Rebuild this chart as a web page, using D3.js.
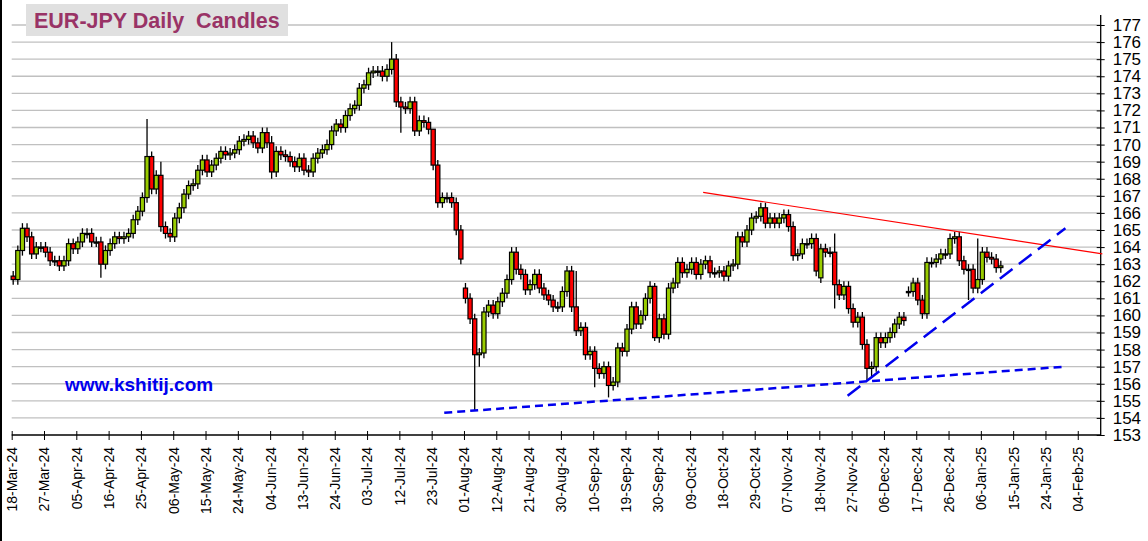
<!DOCTYPE html>
<html>
<head>
<meta charset="utf-8">
<script src="https://cdn.jsdelivr.net/npm/d3@7"></script>
<style>
  body { margin:0; background:#fff; }
  svg text { font-family: "Liberation Sans", Arial, sans-serif; }
</style>
</head>
<body>
<svg id="chart" width="1148" height="541"></svg>
<script>
// x-axis labels, one every 7 trading days
let tickLabels = ['18-Mar-24','27-Mar-24','05-Apr-24','16-Apr-24','25-Apr-24','06-May-24','15-May-24','24-May-24',
  '04-Jun-24','13-Jun-24','24-Jun-24','03-Jul-24','12-Jul-24','23-Jul-24','01-Aug-24','12-Aug-24','21-Aug-24',
  '30-Aug-24','10-Sep-24','19-Sep-24','30-Sep-24','09-Oct-24','18-Oct-24','29-Oct-24','07-Nov-24','18-Nov-24',
  '27-Nov-24','06-Dec-24','17-Dec-24','26-Dec-24','06-Jan-25','15-Jan-25','24-Jan-25','04-Feb-25']

// daily closes
let closes = [
  162.1,163.8,165.1,164.6,163.6,164.0,164.0,163.7,163.2,163.2,
  162.9,163.2,164.2,163.9,164.3,164.8,164.8,164.3,164.3,163.0,
  163.8,164.2,164.6,164.5,164.6,164.8,165.6,166.1,166.9,169.3,
  167.4,168.2,165.2,164.8,164.6,165.7,166.3,167.1,167.6,167.7,
  168.5,169.1,168.4,168.8,169.2,169.6,169.4,169.5,169.7,170.2,
  170.3,170.5,170.1,169.8,170.7,170.1,168.4,169.6,169.4,169.3,
  169.0,168.7,169.2,168.5,168.4,169.2,169.5,169.7,170.0,170.8,
  171.2,171.0,171.7,172.1,172.3,173.3,173.5,174.2,174.3,174.3,
  174.0,174.4,175.0,172.5,172.2,172.1,172.5,170.8,171.4,171.3,
  170.9,168.8,166.6,166.9,166.9,166.6,165.0,163.3,161.0,159.8,
  157.7,157.8,160.2,160.6,160.1,160.8,161.3,162.1,163.7,162.7,
  162.4,161.5,161.8,162.4,161.6,161.2,160.9,160.5,160.5,161.4,
  162.6,160.5,159.1,159.3,157.7,157.9,156.9,156.6,157.0,155.9,
  156.1,158.1,157.9,159.2,160.5,159.5,160.0,161.0,161.7,158.7,
  159.8,158.9,161.6,161.9,163.1,162.5,162.7,163.1,162.4,163.0,
  163.2,162.5,162.5,162.6,162.3,162.9,163.0,164.6,164.3,165.0,
  165.7,165.8,166.3,165.4,165.7,165.4,165.7,165.9,165.2,163.5,
  163.6,164.2,164.2,164.5,162.6,163.9,163.7,163.7,161.8,161.2,
  161.7,160.4,159.6,159.9,158.3,156.9,157.0,158.7,158.4,158.7,
  159.0,159.5,159.9,159.7,161.4,161.9,160.9,160.1,163.1,163.1,
  163.3,163.6,163.6,164.5,164.6,163.2,162.7,162.7,161.6,162.1,
  163.7,163.4,163.3,162.8,162.9
]
// opens that gapped away from the previous close
let gapOpens = { 0:162.3, 29:166.9, 98:161.6, 175:162.2, 194:161.4 }
// highs / lows where the wick stands out
let bigHighs = { 29:171.5, 32:169.0, 56:170.5, 82:176.0, 91:170.9, 122:162.6, 139:161.9, 162:166.6, 174:164.8, 178:164.8, 209:164.5 }
let bigLows  = { 19:162.2, 56:168.0, 84:170.7, 100:154.4, 101:157.0, 126:155.8, 129:155.2, 139:158.5, 178:160.4, 185:156.2, 186:156.4, 207:160.9 }

// trend lines [index, price]
let resistance = [[149.5,167.2],[236,163.6]]
let supportLow = [[93.4,154.3],[227.8,157.0]]
let supportHigh = [[180.8,155.3],[228,165.1]]

let yTicks = d3.range(153,178)

const svg = d3.select('#chart')
const mLeft = 11.7, mRight = 1100.7, mTop = 25, mBottom = 435
const step = 4.615

let x = d3.scaleLinear().domain([0,1]).range([mLeft+1.5, mLeft+1.5+step])
let xt = d3.scaleLinear().domain([0,1]).range([mLeft, mLeft+step*7])
let y = d3.scaleLinear().domain([153,177]).range([mBottom, mTop])

// frame
svg.append('line').attr('x1',1).attr('x2',1).attr('y1',0).attr('y2',541).attr('stroke','#000').attr('stroke-width',2)

// grid
svg.append('g').selectAll('line').data(yTicks.slice(1)).join('line')
  .attr('x1',mLeft).attr('x2',mRight)
  .attr('y1',d=>y(d)).attr('y2',d=>y(d))
  .attr('stroke','#c0c0c0').attr('stroke-width',1.3)

// title box
svg.append('rect').attr('x',26).attr('y',4).attr('width',262).attr('height',32).attr('fill','#e0e0e0')
svg.append('text').attr('x',34).attr('y',28).text('EUR-JPY Daily  Candles')
  .style('white-space','pre')
  .attr('fill','#993366').attr('font-size',21.5).attr('font-weight','bold')

// right axis
let yAxis = d3.axisRight(y).tickValues(yTicks).tickSize(4).tickPadding(8).tickFormat(d3.format('d'))
let ga = svg.append('g').attr('transform',`translate(${mRight},0)`).call(yAxis)
ga.select('.domain').attr('d',`M0,${mTop-10}V${mBottom}`).attr('stroke','#000').attr('stroke-width',1.3)
ga.selectAll('.tick line').attr('x1',-4).attr('stroke','#000')
ga.selectAll('text').attr('font-size',17).attr('fill','#000')

// bottom axis
let xAxis = d3.axisBottom(xt).tickValues(d3.range(tickLabels.length)).tickFormat(i=>tickLabels[i]).tickSize(5)
let gx = svg.append('g').attr('transform',`translate(0,${mBottom})`).call(xAxis)
gx.select('.domain').attr('d',`M${mLeft},0H${mRight}`).attr('stroke','#000').attr('stroke-width',1.3)
gx.selectAll('.tick line').attr('y1',-4).attr('stroke','#000')
gx.selectAll('text').attr('font-size',14).attr('fill','#000')
  .attr('transform','rotate(-90)').attr('text-anchor','end')
  .attr('x',-12).attr('y',0).attr('dy','0.35em')

// watermark site
svg.append('text').attr('x',65).attr('y',391).text('www.kshitij.com')
  .attr('fill','#0000ee').attr('font-size',19).attr('font-weight','bold')

// candles
let candles = closes.map((c,i)=>{
  let o = gapOpens[i] != undefined ? gapOpens[i] : (i>0 ? closes[i-1] : c)
  let h = bigHighs[i] != undefined ? bigHighs[i] : Math.max(o,c)+0.3
  let l = bigLows[i] != undefined ? bigLows[i] : Math.min(o,c)-0.3
  return { i, o, c, h, l }
})
let g = svg.append('g')
let bw = 4.2
g.selectAll('line.wick').data(candles).join('line').attr('class','wick')
  .attr('x1',d=>x(d.i)).attr('x2',d=>x(d.i))
  .attr('y1',d=>y(d.h)).attr('y2',d=>y(d.l))
  .attr('stroke','#000').attr('stroke-width',1.3)
g.selectAll('rect').data(candles).join('rect')
  .attr('x',d=>x(d.i)-bw/2).attr('width',bw)
  .attr('y',d=>y(Math.max(d.o,d.c)))
  .attr('height',d=>Math.max(1.2,Math.abs(y(d.o)-y(d.c))))
  .attr('fill',d=>d.c>=d.o ? '#99cc00' : '#ff0000')
  .attr('stroke','#000').attr('stroke-width',1.2)

// trend lines
let line = d3.line().x(d=>x(d[0])).y(d=>y(d[1]))
svg.append('path').attr('d',line(resistance)).attr('stroke','#ff0000').attr('stroke-width',1.2).attr('fill','none')
svg.append('path').attr('d',line(supportLow)).attr('stroke','#0000ee').attr('stroke-width',2.5)
  .attr('stroke-dasharray','8,5').attr('fill','none')
svg.append('path').attr('d',line(supportHigh)).attr('stroke','#0000ee').attr('stroke-width',2.5)
  .attr('stroke-dasharray','16,8').attr('fill','none')
</script>
</body>
</html>
